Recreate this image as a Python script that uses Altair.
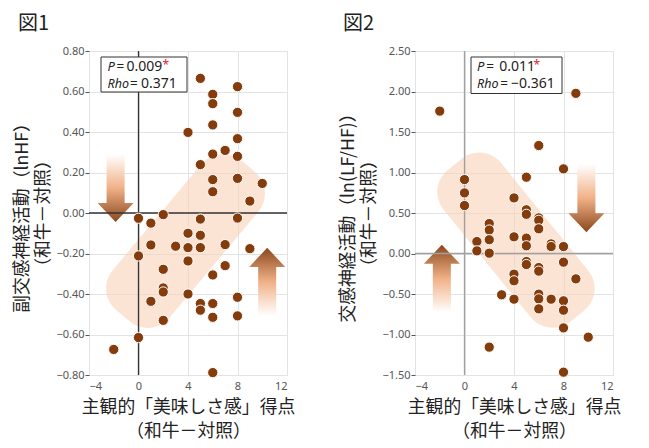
import altair as alt
import pandas as pd

# ---------------- data ----------------
# Figure 1: subjective "tastiness" score vs parasympathetic activity (lnHF)
fig1_x = [5, 6, 6, 8, 8, 6, 4, 8, 6, 7, 8, 5, 6, 8, 6, 10, 9,
          0, 2, 1, 5, 8, 4, 5, 1, 3, 4, 5, 7, 9, 0, 2, 4, 7, 6, 2, 2, 4, 1, 5, 6, 5, 8, 6, 8, 2, 0, -2, 6]
fig1_y = [0.665, 0.586, 0.54, 0.624, 0.497, 0.435, 0.398, 0.367, 0.291, 0.309, 0.28, 0.239, 0.165, 0.171, 0.105, 0.146, 0.059,
          -0.026, -0.008, -0.05, -0.03, -0.025, -0.10, -0.11, -0.158, -0.164, -0.171, -0.171, -0.156, -0.176, -0.212,
          -0.278, -0.237, -0.26, -0.306, -0.37, -0.39, -0.40, -0.436, -0.447, -0.447, -0.48, -0.416, -0.515, -0.508,
          -0.53, -0.615, -0.674, -0.788]

# Figure 2: subjective "tastiness" score vs sympathetic activity (ln(LF/HF))
fig2_x = [-2, 9, 6, 8, 5, 0, 0, 0, 4, 5, 5, 6, 6, 6, 2, 2, 2, 2, 1, 1, 4, 5, 5, 7, 7, 8, 8, 5, 5, 6, 6, 4, 4, 9,
          3, 4, 6, 6, 6, 7, 8, 8, 8, 10, 2, 8]
fig2_y = [1.758, 1.977, 1.333, 1.045, 0.942, 0.913, 0.748, 0.592, 0.686, 0.54, 0.484, 0.44, 0.41, 0.305, 0.37,
          0.29, 0.17, 0.004, 0.148, 0.033, 0.206, 0.19, 0.095, 0.119, 0.086, 0.086, -0.107, -0.099, -0.136,
          -0.173, -0.218, -0.255, -0.337, -0.313, -0.51, -0.564, -0.502, -0.56, -0.683, -0.564, -0.584, -0.70,
          -0.918, -1.033, -1.156, -1.465]

x_ticks = [-4, 0, 4, 8, 12]
y1_ticks = [0.8, 0.6, 0.4, 0.2, 0.0, -0.2, -0.4, -0.6, -0.8]
y2_ticks = [2.5, 2.0, 1.5, 1.0, 0.5, 0.0, -0.5, -1.0, -1.5]

x_title = ["主観的「美味しさ感」得点", "（和牛－対照）"]
y1_title = ["副交感神経活動（lnHF）", "（和牛－対照）"]
y2_title = ["交感神経活動（ln(LF/HF)）", "（和牛－対照）"]

stats1 = {"p": "0.009", "rho": "0.371"}
stats2 = {"p": "0.011", "rho": "−0.361"}

# ---------------- styles ----------------
JP = "Noto Sans CJK JP"
LAT = "Noto Sans"
PT = "#843c0c"
W, H = 198, 324


def rounded_rect(hw, hh, r):
    k = 0.5523 * r
    p = []
    p.append(f"M{-hw + r},{-hh}")
    p.append(f"L{hw - r},{-hh}")
    p.append(f"C{hw - r + k},{-hh} {hw},{-hh + r - k} {hw},{-hh + r}")
    p.append(f"L{hw},{hh - r}")
    p.append(f"C{hw},{hh - r + k} {hw - r + k},{hh} {hw - r},{hh}")
    p.append(f"L{-hw + r},{hh}")
    p.append(f"C{-hw + r - k},{hh} {-hw},{hh - r + k} {-hw},{hh - r}")
    p.append(f"L{-hw},{-hh + r}")
    p.append(f"C{-hw},{-hh + r - k} {-hw + r - k},{-hh} {-hw + r},{-hh}")
    p.append("Z")
    return " ".join(p)


BAND = rounded_rect(1.0, 0.38, 0.29)
DOWN = "M-0.265,-1 L0.265,-1 L0.265,0.44 L0.53,0.44 L0,1 L-0.53,0.44 L-0.265,0.44 Z"
UP = "M-0.265,1 L0.265,1 L0.265,-0.44 L0.53,-0.44 L0,-1 L-0.53,-0.44 L-0.265,-0.44 Z"


def grad(down=True):
    stops = [alt.GradientStop(color="#ffffff", offset=0),
             alt.GradientStop(color="#f1b187", offset=0.5),
             alt.GradientStop(color="#8a471c", offset=1)]
    if down:
        return alt.LinearGradient(gradient="linear", stops=stops, x1=0, x2=0, y1=0, y2=1)
    return alt.LinearGradient(gradient="linear", stops=stops, x1=0, x2=0, y1=1, y2=0)


def panel(xs, ys, y_ticks, y_dom, y_title, fig_title, band_xy, band_angle,
          down_xy, up_xy, zero_color, box, pieces, title_dx, ytitle_pad):
    df = pd.DataFrame({"x": xs, "y": ys})
    one = pd.DataFrame({"k": [0]})
    xs_ = alt.Scale(domain=[-4, 12], nice=False, zero=False)
    ys_ = alt.Scale(domain=y_dom, nice=False, zero=False)
    xaxis = alt.Axis(values=x_ticks, title=x_title, titleFont=JP, titleFontSize=17.8,
                     titleFontWeight="normal", titleColor="#222", titleLineHeight=24,
                     titlePadding=7, labelFont=LAT, labelFontSize=11, labelColor="#555",
                     ticks=False, labelPadding=5, domain=False, grid=True,
                     gridColor="#e3e3e3", gridWidth=1)
    yaxis = alt.Axis(values=y_ticks, format=".2f", title=y_title, titleFont=JP, titleFontSize=17.8,
                     titleFontWeight="normal", titleColor="#222", titleLineHeight=21,
                     titlePadding=ytitle_pad, labelFont=LAT, labelFontSize=11, labelColor="#555",
                     ticks=True, tickSize=4, tickColor="#555", labelPadding=1, domain=False,
                     grid=True, gridColor="#e3e3e3", gridWidth=1)

    base_pts = alt.Chart(df).mark_circle(size=105, color=PT, opacity=1, stroke="white",
                                         strokeWidth=1).encode(
        x=alt.X("x:Q", scale=xs_, axis=xaxis),
        y=alt.Y("y:Q", scale=ys_, axis=yaxis))

    band = alt.Chart(one).mark_point(shape=BAND, size=38025, angle=band_angle, filled=True,
                                     fill="#f8d2b7", opacity=0.6, strokeWidth=0).encode(
        x=alt.datum(band_xy[0]), y=alt.datum(band_xy[1]))
    down = alt.Chart(one).mark_point(shape=DOWN, size=4624, filled=True, fill=grad(True),
                                     opacity=1, strokeWidth=0).encode(
        x=alt.datum(down_xy[0]), y=alt.datum(down_xy[1]))
    up = alt.Chart(one).mark_point(shape=UP, size=4624, filled=True, fill=grad(False),
                                   opacity=1, strokeWidth=0).encode(
        x=alt.datum(up_xy[0]), y=alt.datum(up_xy[1]))
    vrule = alt.Chart(one).mark_rule(color=zero_color, strokeWidth=1.3).encode(x=alt.datum(0))
    hrule = alt.Chart(one).mark_rule(color=zero_color, strokeWidth=1.3).encode(y=alt.datum(0))
    rect = alt.Chart(one).mark_rect(fill="white", stroke="#333", strokeWidth=1).encode(
        x=alt.value(box[0]), x2=alt.value(box[1]), y=alt.value(box[2]), y2=alt.value(box[3]))
    texts = []
    for (t, px, py, italic, col, fs) in pieces:
        texts.append(alt.Chart(one).mark_text(
            font=LAT, fontSize=fs, fontStyle="italic" if italic else "normal",
            color=col, align="left", baseline="middle").encode(
            x=alt.value(px), y=alt.value(py), text=alt.value(t)))

    layers = [band, down, up, vrule, hrule, rect] + texts + [base_pts]
    return alt.layer(*layers).properties(
        width=W, height=H,
        title=alt.TitleParams(text=fig_title, anchor="start", frame="group", dx=title_dx,
                              fontSize=20, font=JP, fontWeight="normal", color="#222",
                              offset=11))


TXT = "#222"
RED = "#e8202a"
p1_pieces = [("P", 18.5, 16, True, TXT, 13), ("=", 27.5, 16, False, TXT, 13.5),
             (stats1["p"], 37.5, 16, False, TXT, 14), ("*", 73.5, 14, False, RED, 12),
             ("Rho", 18.5, 32.5, True, TXT, 12.5), ("=", 41, 32.5, False, TXT, 13.5),
             (stats1["rho"], 52, 32.5, False, TXT, 14)]
p2_pieces = [("P", 62, 16, True, TXT, 13), ("=", 71.3, 16, False, TXT, 13.5),
             (stats2["p"], 84.3, 16, False, TXT, 14), ("*", 118.6, 14, False, RED, 12),
             ("Rho", 62, 32.5, True, TXT, 12.5), ("=", 85.3, 32.5, False, TXT, 13.5),
             (stats2["rho"], 96, 32.5, False, TXT, 14)]

left = panel(fig1_x, fig1_y, y1_ticks, [-0.8, 0.8], y1_title, "図1",
             (3.8, -0.138), 310, (-1.85, 0.123), (10.4, -0.34), "#333",
             (12, 98, 6, 41), p1_pieces, -71, 3)
right = panel(fig2_x, fig2_y, y2_ticks, [-1.5, 2.5], y2_title, "図2",
              (4.16, 0.164), 51, (9.85, 0.683), (-1.83, -0.311), "#a0a0a0",
              (56, 147, 6, 42.5), p2_pieces, -72, 3)

chart = alt.hconcat(left, right, spacing=43).properties(
    padding={"left": 5, "top": 5, "right": 5, "bottom": 5}).configure_view(
    stroke="#333", strokeWidth=1.5).configure(background="white")

chart.save("out.html", embed_options={"renderer": "svg", "actions": False})
